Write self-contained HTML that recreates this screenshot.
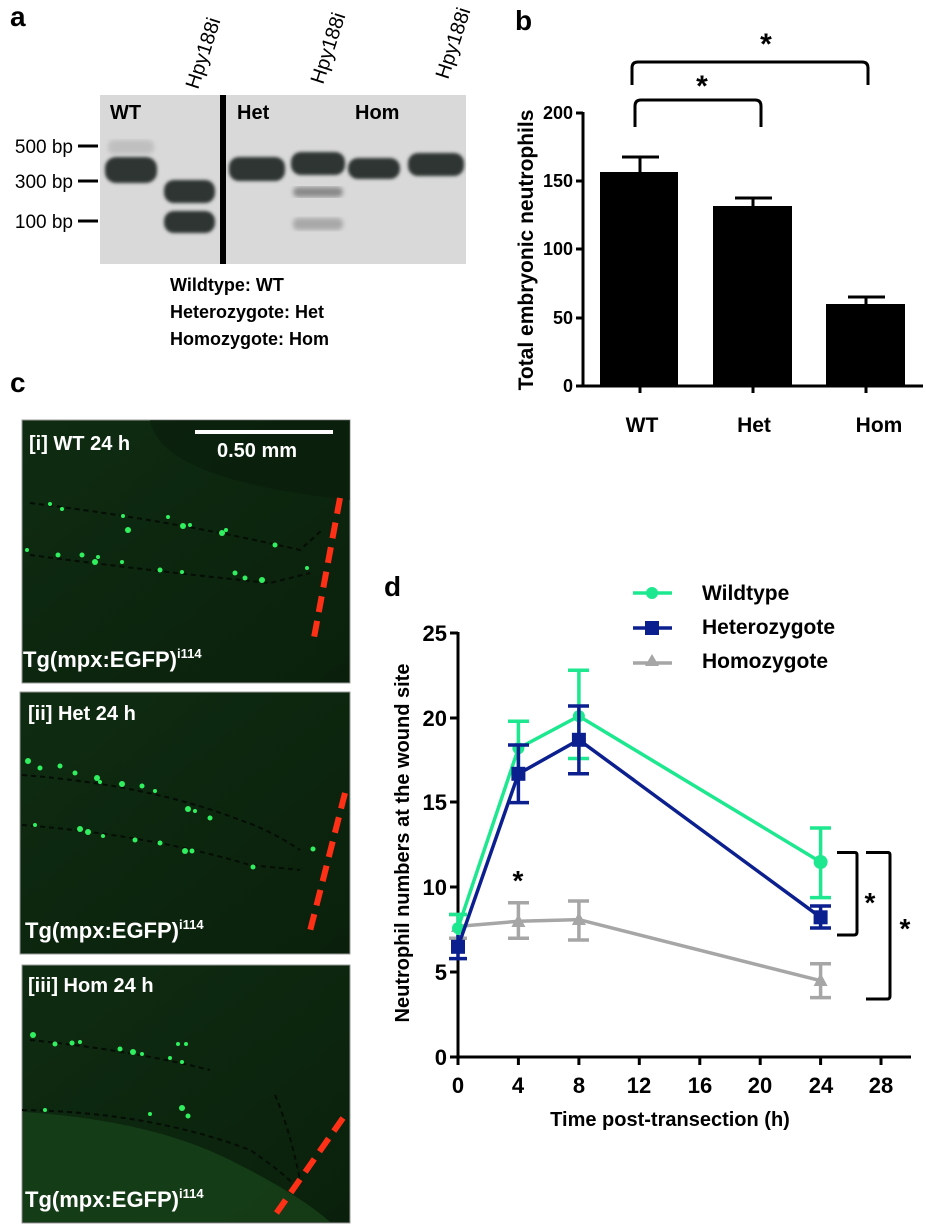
<!DOCTYPE html>
<html><head><meta charset="utf-8"><style>
html,body{margin:0;padding:0;background:#fff;}
svg{display:block;}
text{font-family:"Liberation Sans",Arial,sans-serif;}
.b{font-weight:bold;}
</style></head><body>
<svg width="926" height="1227" viewBox="0 0 926 1227" xmlns="http://www.w3.org/2000/svg">
<!-- Panel letters -->
<text x="10" y="26" class="b" font-size="28">a</text>
<text x="515" y="30" class="b" font-size="28">b</text>
<text x="10" y="392" class="b" font-size="28">c</text>
<text x="384" y="596" class="b" font-size="28">d</text>

<!-- Panel a: gel -->
<defs>
<filter id="blur1"><feGaussianBlur stdDeviation="1.5"/></filter>
<filter id="blur2"><feGaussianBlur stdDeviation="2.5"/></filter>
<filter id="blur3"><feGaussianBlur stdDeviation="1.2"/></filter>
</defs>
<rect x="100" y="95" width="366" height="169" fill="#d9d9d9"/>
<g fill="#2f3432" filter="url(#blur1)">
<rect x="105" y="157" width="52" height="26" rx="11"/>
<rect x="164" y="180" width="51" height="23" rx="10"/>
<rect x="164" y="211" width="51" height="22" rx="10"/>
<rect x="229" y="157" width="56" height="24" rx="10"/>
<rect x="291" y="152" width="54" height="23" rx="10"/>
<rect x="348" y="158" width="52" height="21" rx="10"/>
<rect x="408" y="153" width="56" height="23" rx="10"/>
</g>
<rect x="108" y="140" width="46" height="14" rx="6" fill="#bfbfbf" filter="url(#blur2)"/>
<rect x="293" y="187" width="50" height="10" rx="5" fill="#8a8a8a" filter="url(#blur2)"/>
<rect x="293" y="218" width="50" height="12" rx="5" fill="#a8a8a8" filter="url(#blur2)"/>
<rect x="220" y="95" width="6" height="169" fill="#000"/>
<text x="110" y="119" class="b" font-size="20">WT</text>
<text x="237" y="119" class="b" font-size="20">Het</text>
<text x="355" y="119" class="b" font-size="20">Hom</text>
<g font-size="19">
<text x="73" y="153" text-anchor="end">500 bp</text>
<text x="73" y="188" text-anchor="end">300 bp</text>
<text x="73" y="228" text-anchor="end">100 bp</text>
</g>
<g stroke="#000" stroke-width="3">
<line x1="78" y1="146" x2="98" y2="146"/>
<line x1="78" y1="181" x2="98" y2="181"/>
<line x1="78" y1="221" x2="98" y2="221"/>
</g>
<g font-size="20">
<text transform="translate(198,90) rotate(-72)">Hpy188i</text>
<text transform="translate(323,85) rotate(-72)">Hpy188i</text>
<text transform="translate(448,80) rotate(-72)">Hpy188i</text>
</g>
<g class="b" font-size="18">
<text x="170" y="291">Wildtype: WT</text>
<text x="170" y="318">Heterozygote: Het</text>
<text x="170" y="345">Homozygote: Hom</text>
</g>

<!-- Panel b -->
<g stroke="#000" stroke-width="3" fill="none">
<line x1="583" y1="112" x2="583" y2="387"/>
<line x1="582" y1="386" x2="923" y2="386"/>
<line x1="576" y1="113" x2="583" y2="113"/>
<line x1="576" y1="181" x2="583" y2="181"/>
<line x1="576" y1="249" x2="583" y2="249"/>
<line x1="576" y1="318" x2="583" y2="318"/>
<line x1="576" y1="386" x2="583" y2="386"/>
<line x1="640" y1="386" x2="640" y2="393"/>
<line x1="753" y1="386" x2="753" y2="393"/>
<line x1="866" y1="386" x2="866" y2="393"/>
<!-- error bars -->
<line x1="640" y1="172" x2="640" y2="157"/><line x1="622" y1="157" x2="659" y2="157"/>
<line x1="753" y1="206" x2="753" y2="198"/><line x1="735" y1="198" x2="772" y2="198"/>
<line x1="866" y1="304" x2="866" y2="297"/><line x1="848" y1="297" x2="885" y2="297"/>
<!-- brackets -->
<path d="M632 85 L632 68 Q632 62 638 62 L862 62 Q868 62 868 68 L868 85"/>
<path d="M635 127 L635 106 Q635 100 641 100 L755 100 Q761 100 761 106 L761 127"/>
</g>
<g fill="#000">
<rect x="600" y="172" width="78" height="214"/>
<rect x="713" y="206" width="79" height="180"/>
<rect x="826" y="304" width="79" height="82"/>
</g>
<g class="b" font-size="18" text-anchor="end">
<text x="573" y="119">200</text>
<text x="573" y="187">150</text>
<text x="573" y="255">100</text>
<text x="573" y="324">50</text>
<text x="573" y="392">0</text>
</g>
<g class="b" font-size="21" text-anchor="middle">
<text x="642" y="432">WT</text>
<text x="754" y="432">Het</text>
<text x="879" y="432">Hom</text>
</g>
<text transform="translate(533,250) rotate(-90)" class="b" font-size="21" text-anchor="middle">Total embryonic neutrophils</text>
<text x="702" y="96" class="b" font-size="30" text-anchor="middle">*</text>
<text x="766" y="54" class="b" font-size="30" text-anchor="middle">*</text>

<!-- Panel c -->
<defs>
<linearGradient id="gbg" x1="0" y1="0" x2="1" y2="1">
<stop offset="0" stop-color="#0f2c12"/><stop offset="0.6" stop-color="#0c250e"/><stop offset="1" stop-color="#0a200c"/>
</linearGradient>
</defs>
<rect x="22" y="420" width="328" height="263" fill="url(#gbg)" stroke="#999" stroke-width="1"/>
<rect x="20" y="692" width="330" height="262" fill="url(#gbg)" stroke="#999" stroke-width="1"/>
<rect x="22" y="965" width="328" height="258" fill="url(#gbg)" stroke="#999" stroke-width="1"/>
<path d="M23 1112 Q150 1120 230 1160 Q300 1195 330 1222 L23 1222 Z" fill="#174219" opacity="0.8"/>
<!-- dark body shadow -->
<path d="M150 420 Q160 480 350 500 L350 420 Z" fill="#081a09" opacity="0.5"/>
<!-- pigment lines -->
<g stroke="#050d05" stroke-width="2" stroke-dasharray="5 4" fill="none">
<path d="M30 503 Q170 520 300 550 L322 530"/>
<path d="M30 555 Q160 572 270 583 L310 573"/>
<path d="M22 775 Q150 785 240 820 Q270 830 300 850"/>
<path d="M22 825 Q150 835 250 865 L300 870"/>
<path d="M30 1040 Q130 1050 210 1070"/>
<path d="M22 1110 Q150 1112 250 1150 Q280 1170 300 1190"/>
<path d="M275 1095 Q290 1130 300 1180"/>
</g>
<g fill="#30f060">
<circle cx="50" cy="504" r="2"/><circle cx="62" cy="509" r="2"/><circle cx="123" cy="516" r="2"/><circle cx="128" cy="530" r="3"/>
<circle cx="183" cy="526" r="3"/><circle cx="190" cy="525" r="2"/><circle cx="222" cy="533" r="3"/><circle cx="226" cy="530" r="2"/>
<circle cx="275" cy="545" r="2.5"/><circle cx="168" cy="517" r="2"/>
<circle cx="27" cy="550" r="2"/><circle cx="58" cy="555" r="2.5"/><circle cx="82" cy="555" r="2.5"/><circle cx="95" cy="562" r="3"/>
<circle cx="98" cy="557" r="2"/><circle cx="122" cy="562" r="2"/><circle cx="160" cy="570" r="2.5"/><circle cx="182" cy="572" r="2"/>
<circle cx="235" cy="573" r="2.5"/><circle cx="245" cy="578" r="2.5"/><circle cx="262" cy="580" r="3"/><circle cx="307" cy="568" r="2"/>
<circle cx="28" cy="761" r="3"/><circle cx="40" cy="768" r="2.5"/><circle cx="60" cy="766" r="2.5"/><circle cx="75" cy="773" r="2.5"/>
<circle cx="97" cy="778" r="3"/><circle cx="100" cy="782" r="2"/><circle cx="122" cy="784" r="3"/><circle cx="142" cy="786" r="2.5"/>
<circle cx="155" cy="791" r="2"/><circle cx="188" cy="809" r="3"/><circle cx="195" cy="811" r="2"/><circle cx="210" cy="818" r="2.5"/>
<circle cx="35" cy="825" r="2"/><circle cx="80" cy="829" r="3"/><circle cx="88" cy="832" r="3"/><circle cx="103" cy="836" r="2"/>
<circle cx="135" cy="840" r="2.5"/><circle cx="160" cy="843" r="2.5"/><circle cx="185" cy="851" r="3"/><circle cx="192" cy="851" r="2.5"/>
<circle cx="253" cy="867" r="2.5"/><circle cx="313" cy="849" r="2.5"/>
<circle cx="33" cy="1035" r="3"/><circle cx="55" cy="1044" r="2.5"/><circle cx="72" cy="1043" r="2.5"/><circle cx="80" cy="1042" r="2"/>
<circle cx="120" cy="1049" r="2.5"/><circle cx="133" cy="1052" r="3"/><circle cx="142" cy="1054" r="2"/><circle cx="170" cy="1058" r="2"/>
<circle cx="182" cy="1062" r="2"/><circle cx="178" cy="1044" r="2"/><circle cx="186" cy="1044" r="2"/>
<circle cx="45" cy="1110" r="2"/><circle cx="150" cy="1114" r="2"/><circle cx="182" cy="1108" r="3"/><circle cx="188" cy="1116" r="2.5"/>
</g>
<g stroke="#ff3015" stroke-width="6" stroke-dasharray="16 9">
<line x1="340" y1="498" x2="313" y2="643"/>
<line x1="345" y1="793" x2="309" y2="935"/>
<line x1="343" y1="1118" x2="273" y2="1218"/>
</g>
<line x1="195" y1="432" x2="333" y2="432" stroke="#fff" stroke-width="4"/>
<g class="b" fill="#fff">
<text x="217" y="457" font-size="20">0.50 mm</text>
<text x="29" y="450" font-size="20">[i] WT 24 h</text>
<text x="28" y="720" font-size="20">[ii] Het 24 h</text>
<text x="28" y="992" font-size="20">[iii] Hom 24 h</text>
<text x="23" y="667" font-size="22">Tg(mpx:EGFP)<tspan font-size="13" dy="-9">i114</tspan></text>
<text x="25" y="938" font-size="22">Tg(mpx:EGFP)<tspan font-size="13" dy="-9">i114</tspan></text>
<text x="25" y="1207" font-size="22">Tg(mpx:EGFP)<tspan font-size="13" dy="-9">i114</tspan></text>
</g>

<!-- Panel d -->
<g stroke="#000" stroke-width="3" fill="none">
<line x1="458" y1="632" x2="458" y2="1058"/>
<line x1="457" y1="1057" x2="911" y2="1057"/>
<line x1="450" y1="633" x2="458" y2="633"/>
<line x1="450" y1="718" x2="458" y2="718"/>
<line x1="450" y1="802" x2="458" y2="802"/>
<line x1="450" y1="887" x2="458" y2="887"/>
<line x1="450" y1="972" x2="458" y2="972"/>
<line x1="450" y1="1057" x2="458" y2="1057"/>
<line x1="458" y1="1057" x2="458" y2="1065"/>
<line x1="518.4" y1="1057" x2="518.4" y2="1065"/>
<line x1="578.9" y1="1057" x2="578.9" y2="1065"/>
<line x1="639.3" y1="1057" x2="639.3" y2="1065"/>
<line x1="699.8" y1="1057" x2="699.8" y2="1065"/>
<line x1="760.2" y1="1057" x2="760.2" y2="1065"/>
<line x1="820.6" y1="1057" x2="820.6" y2="1065"/>
<line x1="881" y1="1057" x2="881" y2="1065"/>
<path d="M837 852.5 L855 852.5 Q857 852.5 857 855 L857 932 Q857 935 854 935 L837 935"/>
<path d="M866 852.5 L888 852.5 Q890 852.5 890 855 L890 996 Q890 999 887 999 L866 999"/>
</g>
<g class="b" font-size="22" text-anchor="end">
<text x="447" y="641">25</text>
<text x="447" y="726">20</text>
<text x="447" y="810">15</text>
<text x="447" y="895">10</text>
<text x="447" y="980">5</text>
<text x="447" y="1065">0</text>
</g>
<g class="b" font-size="22" text-anchor="middle">
<text x="458" y="1093">0</text>
<text x="518" y="1093">4</text>
<text x="579" y="1093">8</text>
<text x="639" y="1093">12</text>
<text x="700" y="1093">16</text>
<text x="760" y="1093">20</text>
<text x="821" y="1093">24</text>
<text x="881" y="1093">28</text>
</g>
<text x="670" y="1126" class="b" font-size="20" text-anchor="middle">Time post-transection (h)</text>
<text transform="translate(409,843) rotate(-90)" class="b" font-size="20" text-anchor="middle">Neutrophil numbers at the wound site</text>

<!-- Homozygote -->
<g stroke="#a6a6a6" stroke-width="3.5" fill="none">
<polyline points="458,926.4 518.4,921.3 578.9,919.6 820.6,980.7"/>
<line x1="458" y1="914.5" x2="458" y2="938.3"/><line x1="449" y1="914.5" x2="467" y2="914.5"/><line x1="449" y1="938.3" x2="467" y2="938.3"/>
<line x1="518.4" y1="902.7" x2="518.4" y2="938.3"/><line x1="508" y1="902.7" x2="529" y2="902.7"/><line x1="508" y1="938.3" x2="529" y2="938.3"/>
<line x1="578.9" y1="901" x2="578.9" y2="940"/><line x1="568" y1="901" x2="589" y2="901"/><line x1="568" y1="940" x2="589" y2="940"/>
<line x1="820.6" y1="963.7" x2="820.6" y2="997.6"/><line x1="810" y1="963.7" x2="831" y2="963.7"/><line x1="810" y1="997.6" x2="831" y2="997.6"/>
</g>
<g fill="#a6a6a6">
<polygon points="458,919 465,932 451,932"/><polygon points="518.4,914 525.4,927 511.4,927"/>
<polygon points="578.9,912 585.9,925 571.9,925"/><polygon points="820.6,973 827.6,986 813.6,986"/>
</g>
<!-- Wildtype -->
<g stroke="#1ee88f" stroke-width="3.5" fill="none">
<polyline points="458,928.1 518.4,748.3 578.9,716.1 820.6,862"/>
<line x1="458" y1="914.5" x2="458" y2="941.7"/><line x1="449" y1="914.5" x2="467" y2="914.5"/>
<line x1="518.4" y1="721.2" x2="518.4" y2="775"/><line x1="508" y1="721.2" x2="529" y2="721.2"/>
<line x1="578.9" y1="670.3" x2="578.9" y2="758.5"/><line x1="568" y1="670.3" x2="589" y2="670.3"/><line x1="568" y1="758.5" x2="589" y2="758.5"/>
<line x1="820.6" y1="828" x2="820.6" y2="897.6"/><line x1="810" y1="828" x2="831" y2="828"/><line x1="810" y1="897.6" x2="831" y2="897.6"/>
</g>
<g fill="#1ee88f">
<circle cx="458" cy="928.1" r="6"/><circle cx="518.4" cy="748.3" r="6"/><circle cx="578.9" cy="716.1" r="6"/><circle cx="820.6" cy="862" r="7"/>
</g>
<!-- Heterozygote -->
<g stroke="#0b1f8f" stroke-width="3.5" fill="none">
<polyline points="458,946.8 518.4,773.8 578.9,739.8 820.6,917.3"/>
<line x1="458" y1="935" x2="458" y2="958.6"/><line x1="449" y1="958.6" x2="467" y2="958.6"/>
<line x1="518.4" y1="745" x2="518.4" y2="802.6"/><line x1="508" y1="745" x2="529" y2="745"/><line x1="508" y1="802.6" x2="529" y2="802.6"/>
<line x1="578.9" y1="706" x2="578.9" y2="773.8"/><line x1="568" y1="706" x2="589" y2="706"/><line x1="568" y1="773.8" x2="589" y2="773.8"/>
<line x1="820.6" y1="906" x2="820.6" y2="928"/><line x1="810" y1="906" x2="831" y2="906"/><line x1="810" y1="928" x2="831" y2="928"/>
</g>
<g fill="#0b1f8f">
<rect x="451" y="939.8" width="14" height="14"/><rect x="511.4" y="766.8" width="14" height="14"/>
<rect x="571.9" y="732.8" width="14" height="14"/><rect x="813.6" y="910.3" width="14" height="14"/>
</g>
<text x="518" y="890" class="b" font-size="28" text-anchor="middle">*</text>
<text x="870" y="912" class="b" font-size="28" text-anchor="middle">*</text>
<text x="905" y="938" class="b" font-size="28" text-anchor="middle">*</text>

<!-- Legend -->
<line x1="633" y1="593" x2="672" y2="593" stroke="#1ee88f" stroke-width="3.5"/>
<circle cx="652" cy="593" r="6" fill="#1ee88f"/>
<line x1="633" y1="628" x2="672" y2="628" stroke="#0b1f8f" stroke-width="3.5"/>
<rect x="645" y="621" width="14" height="14" fill="#0b1f8f"/>
<line x1="633" y1="663" x2="672" y2="663" stroke="#a6a6a6" stroke-width="3.5"/>
<polygon points="652,654 659,666 645,666" fill="#a6a6a6"/>
<g class="b" font-size="21">
<text x="702" y="600">Wildtype</text>
<text x="702" y="634">Heterozygote</text>
<text x="702" y="668">Homozygote</text>
</g>
</svg>
</body></html>
